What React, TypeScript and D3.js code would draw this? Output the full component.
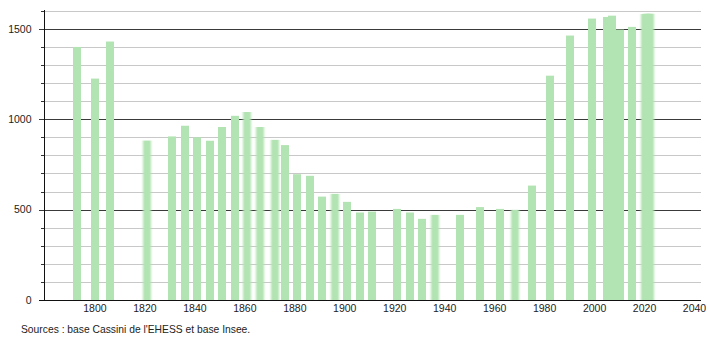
import React from 'react';
import * as d3 from 'd3';

// Census years and population
const years = [
  1793, 1800, 1806, 1821, 1831, 1836, 1841, 1846, 1851, 1856, 1861, 1866,
  1872, 1876, 1881, 1886, 1891, 1896, 1901, 1906, 1911, 1921, 1926, 1931,
  1936, 1946, 1954, 1962, 1968, 1975, 1982, 1990, 1999, 2005, 2007, 2010,
  2015, 2020, 2021, 2022,
];
const population = [
  1400, 1225, 1430, 882, 905, 964, 900, 881, 957, 1019, 1040, 957,
  886, 857, 696, 687, 572, 587, 543, 484, 489, 504, 484, 449,
  471, 471, 514, 504, 499, 633, 1241, 1463, 1557, 1566, 1573, 1496,
  1511, 1582, 1584, 1584,
];
const xTickLabels = [1800, 1820, 1840, 1860, 1880, 1900, 1920, 1940, 1960, 1980, 2000, 2020, 2040];
const yMajorTicks = [0, 500, 1000, 1500];
const yMinorTicks = [100, 200, 300, 400, 600, 700, 800, 900, 1100, 1200, 1300, 1400, 1600];
const softYears = [1821, 1861, 1866, 1872, 1896, 1936, 1968, 2020, 2021, 2022];
const sourceText = "Sources : base Cassini de l'EHESS et base Insee.";

const W = 710;
const H = 340;
const left = 44;
const right = 701;
const top = 10;
const bottom = 300;

export default function App() {
  const x = d3.scaleLinear().domain([1779.6, 2042.6]).range([left, right]);
  const y = d3.scaleLinear().domain([0, 1600]).range([bottom, 10.8]);
  const barW = 8;
  const font = "'Liberation Sans', Arial, Helvetica, sans-serif";
  const py = (v: number) => Math.round(y(v)) + 0.5;

  const data = years.map((yr, i) => ({ year: yr, value: population[i] }));

  return (
    <svg
      width={W}
      height={H}
      viewBox={`0 0 ${W} ${H}`}
      style={{ position: 'absolute', left: 0, top: 0, background: '#fff' }}
    >
      <defs>
        <filter id="soft" x="-60%" y="-5%" width="220%" height="110%">
          <feGaussianBlur stdDeviation="1.3 0.6" />
        </filter>
      </defs>
      <rect x={0} y={0} width={W} height={H} fill="#fff" />
      {/* minor gridlines */}
      {yMinorTicks.map((t) => (
        <g key={'mn' + t}>
          <line x1={left} x2={right} y1={py(t)} y2={py(t)} stroke="#c8c8c8" strokeWidth={1} />
          <line x1={left - 3} x2={left} y1={py(t)} y2={py(t)} stroke="#333" strokeWidth={1} />
        </g>
      ))}
      {/* major gridlines */}
      {yMajorTicks.map((t) => (
        <g key={'mj' + t}>
          <line x1={left - 5} x2={right} y1={py(t)} y2={py(t)} stroke="#3a3a3a" strokeWidth={1} />
          <text
            x={31.5}
            y={y(t)}
            dy="0.35em"
            textAnchor="end"
            fontFamily={font}
            fontSize={10.5}
            fill="#222"
          >
            {t}
          </text>
        </g>
      ))}
      {/* bars */}
      {data.map((d) => {
        const cx = x(d.year);
        const soft = softYears.includes(d.year);
        return (
          <rect
            key={d.year}
            x={Math.round(cx - barW / 2)}
            y={y(d.value)}
            width={barW}
            height={bottom - y(d.value)}
            fill="#b2e3b2"
            filter={soft ? 'url(#soft)' : undefined}
          />
        );
      })}
      {/* axes */}
      <line x1={left + 0.5} x2={left + 0.5} y1={top} y2={bottom + 0.5} stroke="#111" strokeWidth={1} />
      <line x1={left - 5} x2={right} y1={bottom + 0.5} y2={bottom + 0.5} stroke="#111" strokeWidth={1} />
      {xTickLabels.map((t) => (
        <text
          key={'x' + t}
          x={x(t)}
          y={312}
          textAnchor="middle"
          fontFamily={font}
          fontSize={10.5}
          fill="#222"
        >
          {t}
        </text>
      ))}
      <text x={21} y={333} fontFamily={font} fontSize={10.3} fill="#222">
        {sourceText}
      </text>
    </svg>
  );
}
